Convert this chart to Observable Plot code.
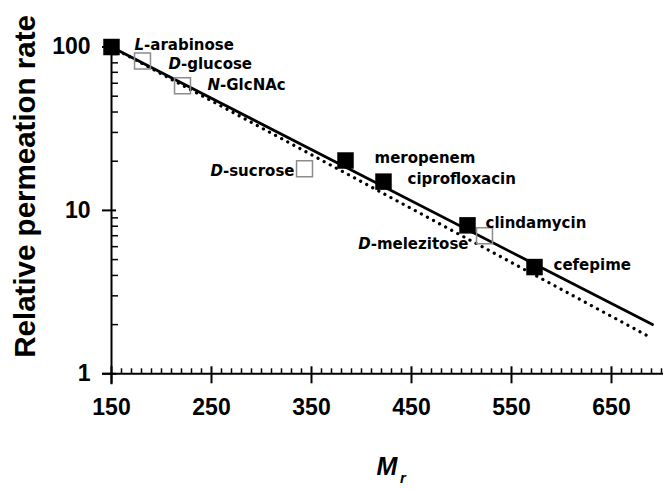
<!DOCTYPE html>
<html><head><meta charset="utf-8">
<script src="https://cdn.jsdelivr.net/npm/d3@7"></script>
<script src="https://cdn.jsdelivr.net/npm/@observablehq/plot@0.6"></script>
<style>body{margin:0;background:#fff;}</style>
</head><body><div id="chart"></div>
<script>
// ---- data ----
const compounds = ["L-arabinose","D-glucose","N-GlcNAc","D-sucrose","meropenem","ciprofloxacin","clindamycin","D-melezitose","cefepime"];
const mr        = [150, 181, 221, 343, 384, 422, 506, 523, 573];
const rate      = [100, 82, 58, 18, 20.2, 15, 8.1, 7.0, 4.5];
const kind      = ["filled","open","open","open","filled","filled","filled","open","filled"];
const solidFitMr   = [150, 691];
const solidFitRate = [100, 2.0];
const dottedFitMr   = [150, 689];
const dottedFitRate = [100, 1.67];
const xTickValues = [150, 250, 350, 450, 550, 650];
const yTickValues = [1, 10, 100];
const yTickLabels = ["1", "10", "100"];
const xLabelMain = "M";
const xLabelSub = "r";
const yLabel = "Relative permeation rate";

// ---- derived tables ----
const pts = compounds.map((name, i) => ({name, mr: mr[i], rate: rate[i], kind: kind[i]}));
const solid = solidFitMr.map((x, i) => ({x, y: solidFitRate[i]}));
const dotted = dottedFitMr.map((x, i) => ({x, y: dottedFitRate[i]}));
const xMinor = d3.range(160, 710, 10).filter(v => v % 100 !== 50);
const yMinor = [2,3,4,5,6,7,8,9,20,30,40,50,60,70,80,90];

// label placement (layout only)
const layout = {
  "L-arabinose":  {dx: 23, dy: -1.5, a: "start"},
  "D-glucose":    {dx: 26, dy: 3, a: "start"},
  "N-GlcNAc":     {dx: 25, dy: 0, a: "start"},
  "D-sucrose":    {dx: -10, dy: 2, a: "end"},
  "meropenem":    {dx: 29, dy: -2, a: "start"},
  "ciprofloxacin":{dx: 24, dy: -2, a: "start"},
  "clindamycin":  {dx: 18, dy: -2, a: "start"},
  "D-melezitose": {dx: -16, dy: 8, a: "end"},
  "cefepime":     {dx: 19, dy: -2, a: "start"}
};

const labelFont = {fontFamily: "'DejaVu Sans', Verdana, sans-serif", fontWeight: "bold", fontSize: 15, fill: "black"};
const axisFont = {fontFamily: "'Liberation Sans', Arial, sans-serif", fontWeight: "bold", fill: "black"};

const plot = Plot.plot({
  width: 663, height: 489,
  marginLeft: 102, marginRight: 0, marginTop: 46.5, marginBottom: 115.7,
  x: {domain: [141, 702], axis: null},
  y: {type: "log", domain: [1, 100], axis: null},
  style: {background: "white", overflow: "visible"},
  marks: [
    // axes lines and ticks
    Plot.ruleY([1], {x1: 141, x2: 702, stroke: "black", strokeWidth: 2}),
    Plot.ruleX([150], {y1: 100, y2: 1, insetTop: -4, insetBottom: -11, stroke: "black", strokeWidth: 2}),
    Plot.ruleX(xMinor, {x: d => d, y1: 1, y2: 1, insetTop: -5, stroke: "black", strokeWidth: 1.5}),
    Plot.ruleX(xTickValues, {x: d => d, y1: 1, y2: 1, insetTop: -7, insetBottom: -10, stroke: "black", strokeWidth: 2}),
    Plot.ruleY(yMinor, {y: d => d, x1: 150, x2: 150, insetRight: -7, stroke: "black", strokeWidth: 1.5}),
    Plot.ruleY(yTickValues, {y: d => d, x1: 150, x2: 150, insetLeft: -9, insetRight: -5, stroke: "black", strokeWidth: 2}),
    // tick labels
    Plot.text(xTickValues, {x: d => d, y: 1, dy: 34, text: d => String(d), lineAnchor: "middle", fontSize: 23, ...axisFont}),
    Plot.text(yTickValues, {y: d => d, x: 150, dx: -21, text: (d, i) => yTickLabels[i], textAnchor: "end", lineAnchor: "middle", fontSize: 23, ...axisFont}),
    // axis titles
    Plot.text([yLabel], {frameAnchor: "left", textAnchor: "middle", rotate: -90, dx: -77, dy: -24, fontSize: 29.5, ...axisFont}),
    Plot.text([xLabelMain], {frameAnchor: "bottom", dx: 4, dy: 101, fontSize: 25, fontStyle: "italic", ...axisFont}),
    Plot.text([xLabelSub], {frameAnchor: "bottom", dx: 20, dy: 109, fontSize: 15, fontStyle: "italic", ...axisFont}),
    // fit lines
    Plot.line(solid, {x: "x", y: "y", stroke: "black", strokeWidth: 2.8}),
    Plot.line(dotted, {x: "x", y: "y", stroke: "black", strokeWidth: 3.2, strokeDasharray: "0.1 6.8", strokeLinecap: "round"}),
    // points
    Plot.dot(pts.filter(d => d.kind === "open"), {x: "mr", y: "rate", symbol: "square", r: 9, fill: "none", stroke: "#8c8c8c", strokeWidth: 1.5}),
    Plot.dot(pts.filter(d => d.kind === "filled"), {x: "mr", y: "rate", symbol: "square", r: 9.3, fill: "black", stroke: "none"}),
    // point labels
    ...pts.map(p => {
      const L = layout[p.name];
      return Plot.text([p], {x: "mr", y: "rate", text: "name", dx: L.dx, dy: L.dy, textAnchor: L.a, lineAnchor: "middle", ...labelFont});
    })
  ]
});

// italic stereo / N prefixes
d3.select(plot).selectAll("text").each(function () {
  const t = this.textContent;
  const m = /^([LDN])(-.+)$/.exec(t);
  if (m) {
    const s = d3.select(this);
    s.text(null);
    s.append("tspan").attr("font-style", "italic").text(m[1]);
    s.append("tspan").text(m[2]);
  }
});

document.getElementById("chart").append(plot);
</script>
</body></html>
